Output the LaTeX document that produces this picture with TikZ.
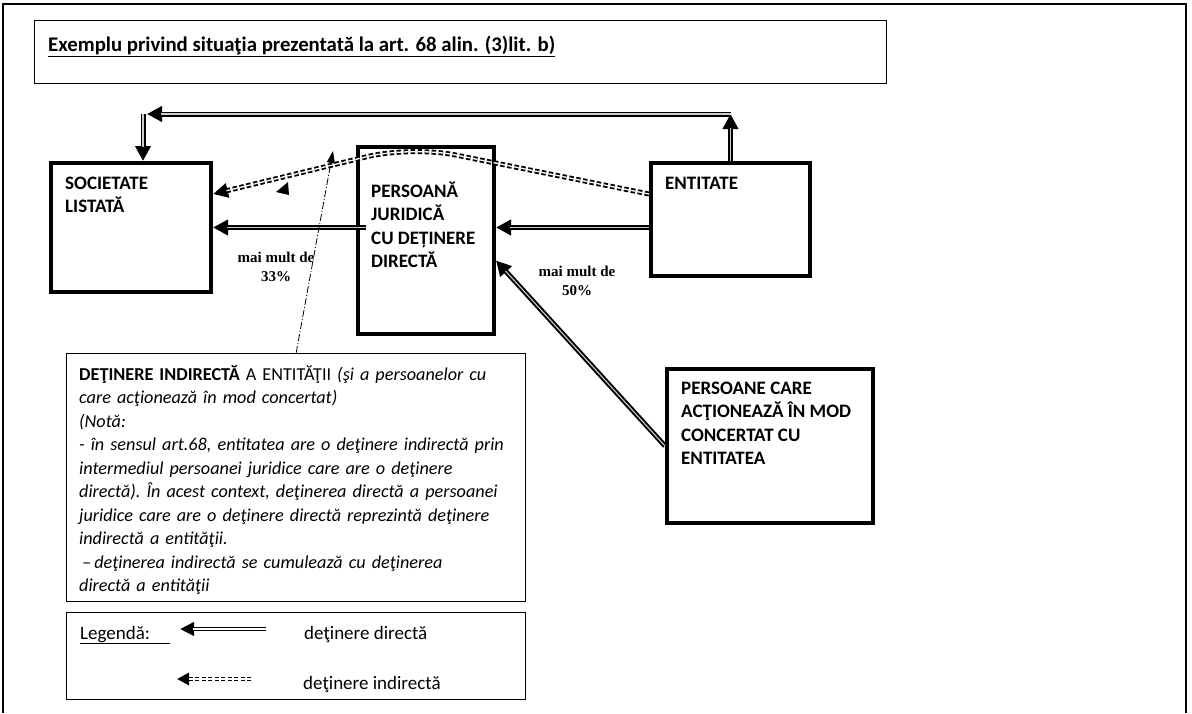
\documentclass[tikz,border=0pt]{standalone}
\usepackage{fontspec}
\setmainfont{Carlito}
\newfontfamily\lserif{Liberation Serif}
\usetikzlibrary{arrows.meta}
\begin{document}
\begin{tikzpicture}[x=1pt,y=-1pt,
  thinbox/.style={draw, line width=1.3pt, inner sep=0pt, anchor=north west},
  thickbox/.style={draw, line width=4pt, inner sep=0pt, anchor=north west},
  boxtext/.style={anchor=base west, align=left, inner sep=0pt, font=\bfseries\fontsize{19}{23.5}\selectfont},
  plaintext/.style={anchor=base west, inner sep=0pt, font=\fontsize{19}{22}\selectfont},
  direct/.style={draw, line width=5pt, -{Triangle[length=15pt,width=15pt]},
     postaction={draw=white!80!black, line width=1.1pt, -, shorten >=14pt}},
  directleg/.style={draw, line width=3.8pt, -{Triangle[length=14pt,width=13pt]},
     postaction={draw=white, line width=1.6pt, -, shorten >=13pt}},
  indirect/.style={draw, line width=5pt, dash pattern=on 4.5pt off 2.5pt, -{Triangle[length=15pt,width=14pt]},
     postaction={draw=white, line width=1.3pt, -, shorten >=14pt}},
  indirectleg/.style={draw, line width=3.8pt, dash pattern=on 4pt off 2.5pt, -{Triangle[length=12pt,width=12pt]},
     postaction={draw=white, line width=1.3pt, -, shorten >=11pt}},
  pointer/.style={draw, line width=0.8pt, dash pattern=on 7pt off 2pt on 1.2pt off 2pt, -{Triangle[length=12pt,width=8pt]}},
  pct/.style={align=center, inner sep=0pt, font=\lserif\bfseries\fontsize{15}{18.5}\selectfont},
]
\path[use as bounding box] (0,0) rectangle (1192,713);
% outer frame
\draw[line width=1.5pt] (3,713) -- (3,4) -- (1186,4) -- (1186,713);

% title
\node[thinbox, minimum width=852pt, minimum height=63pt] (title) at (34,20) {};
\node[anchor=base west, inner sep=0pt, font=\bfseries\fontsize{20.8}{24}\selectfont] (titletext) at (48,51)
  {\underline{Exemplu privind situaţia prezentată la art. 68 alin. (3)lit. b)}};

% main boxes
\node[thickbox, minimum width=160pt, minimum height=129pt] (soc) at (49,161) {};
\node[boxtext] (soct) at (65,212.5) {SOCIETATE\\LISTATĂ};

\node[thickbox, minimum width=136pt, minimum height=187pt] (pj) at (356,145) {};
\node[boxtext] (pjt) at (371,267.5) {PERSOANĂ\\JURIDICĂ\\CU DEȚINERE\\DIRECTĂ};

\node[thickbox, minimum width=159pt, minimum height=113pt] (ent) at (649,161) {};
\node[boxtext] (entt) at (665,189) {ENTITATE};

\node[thickbox, minimum width=206pt, minimum height=154pt] (pers) at (665,367) {};
\node[boxtext] (perst) at (681,464.5) {PERSOANE CARE\\ACŢIONEAZĂ ÎN MOD\\CONCERTAT CU\\ENTITATEA};

% note box
\node[thinbox, minimum width=459pt, minimum height=248pt] (note) at (66,353) {};
\node[anchor=base west, inner sep=0pt, text width=432pt, align=left,
      font=\frenchspacing\fontsize{18.2}{23.5}\selectfont] (notet) at (79,380) {%
\textbf{DEŢINERE INDIRECTĂ} A ENTITĂŢII \textit{(şi a persoanelor cu}\\
\textit{care acţionează în mod concertat)}\\
\textit{(Notă:}\\
\makebox[432pt][s]{\itshape - în sensul art.68, entitatea are o deţinere indirectă prin}\\
\makebox[432pt][s]{\itshape intermediul persoanei juridice care are o deţinere}\\
\makebox[432pt][s]{\itshape directă). În acest context, deţinerea directă a persoanei}\\
\makebox[432pt][s]{\itshape juridice care are o deţinere directă reprezintă deţinere}\\
\textit{indirectă a entităţii.}\\
\textit{\,–\,deţinerea indirectă se cumulează cu deţinerea}\\
\textit{directă a entităţii}};

% legend
\node[thinbox, minimum width=459pt, minimum height=87pt] (leg) at (66,612) {};
\node[plaintext] (legt) at (80,639) {\underline{Legendă:\hspace{20pt}}};
\coordinate (ld1) at (266,629);
\coordinate (ld2) at (180,629);
\draw[directleg] (ld1) -- (ld2);
\node[plaintext] (ldt) at (304,639) {deţinere directă};
\coordinate (li1) at (251,679);
\coordinate (li2) at (177,679);
\draw[indirectleg] (li1) -- (li2);
\node[plaintext] (lit) at (303,689) {deţinere indirectă};

% direct holdings
\draw[direct] ([xshift=10pt]pj.west |- soc.east) -- (soc.east);
\draw[direct] (ent.west |- soc.east) -- (pj.east |- soc.east);
\draw[direct] (pers.west) -- ([yshift=-20pt]pj.east);

% route over the top
\coordinate (tl) at (143,114);
\draw[direct] (ent.north) -- (ent.north |- tl);
\draw[direct] (ent.north |- tl) -- ([xshift=4pt]tl);
\draw[direct] (tl) -- (soc.north -| tl);

% indirect holding
\coordinate (peak) at (411,146);
\draw[indirect, rounded corners=45pt] ([yshift=25.5pt]ent.west) -- (peak) -- ([yshift=33.5pt]soc.east);
\fill (276,192) -- (288,182) -- (289,195) -- cycle;

% pointer from note
\coordinate (ptr) at (333,151);
\draw[pointer] (note.north) -- (ptr);

% percentages
\node[pct] (p33) at (276,267) {mai mult de\\33\%};
\node[pct] (p50) at (577,281) {mai mult de\\50\%};
\end{tikzpicture}
\end{document}
